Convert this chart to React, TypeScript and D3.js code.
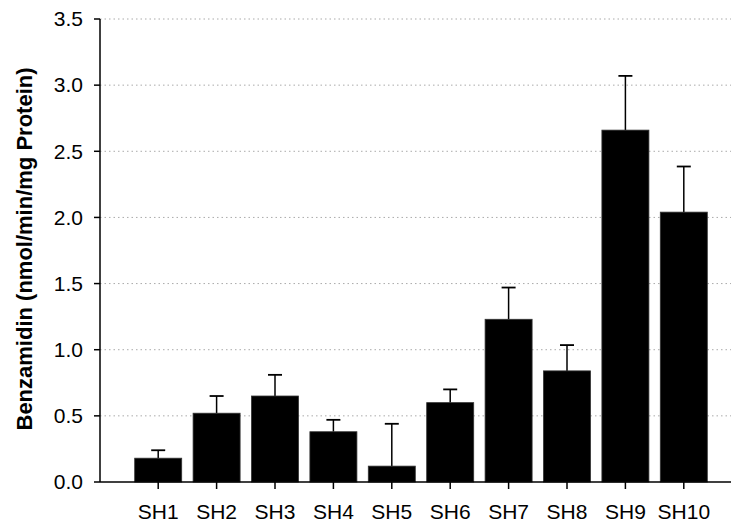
import React from "react";
import * as d3 from "d3";

const categories = ["SH1", "SH2", "SH3", "SH4", "SH5", "SH6", "SH7", "SH8", "SH9", "SH10"];
const means = [0.18, 0.52, 0.65, 0.38, 0.12, 0.6, 1.23, 0.84, 2.66, 2.04];
const errors = [0.06, 0.13, 0.16, 0.09, 0.32, 0.1, 0.24, 0.195, 0.41, 0.345];
const yTicks = [0, 0.5, 1.0, 1.5, 2.0, 2.5, 3.0, 3.5];
const yLabel = "Benzamidin (nmol/min/mg Protein)";

export default function App() {
  const W = 733, H = 525;
  const axisX = 100;
  const right = 731;
  const y = d3.scaleLinear().domain([0, 3.5]).range([482, 19]);
  const x = d3
    .scaleBand<string>()
    .domain(categories)
    .range([129, 129 + 58.4 * categories.length])
    .paddingInner(0.195)
    .paddingOuter(0.0975);
  const bw = x.bandwidth();
  const font = "'Liberation Sans', Arial, Helvetica, sans-serif";
  return (
    <svg width={W} height={H} style={{ position: "absolute", left: 0, top: 0, background: "#fff" }} fontFamily={font}>
      {yTicks.filter((t) => t > 0).map((t) => (
        <line key={"g" + t} x1={axisX} x2={right} y1={y(t)} y2={y(t)} stroke="#aaa" strokeWidth={1} strokeDasharray="1.5,3" />
      ))}
      {categories.map((c, i) => {
        const cx = (x(c) as number) + bw / 2;
        const top = y(means[i]);
        const et = y(means[i] + errors[i]);
        return (
          <g key={c}>
            <line x1={cx} x2={cx} y1={top} y2={et} stroke="#000" strokeWidth={1.5} />
            <line x1={cx - 7} x2={cx + 7} y1={et} y2={et} stroke="#000" strokeWidth={1.8} />
            <rect x={x(c)} y={top} width={bw} height={y(0) - top} fill="#000" stroke="#333" strokeWidth={0.8} />
            <line x1={cx} x2={cx} y1={y(0)} y2={y(0) + 7} stroke="#000" strokeWidth={1.5} />
            <text x={cx} y={519} textAnchor="middle" fontSize={21} fill="#000">{c}</text>
          </g>
        );
      })}
      <line x1={axisX} x2={right} y1={y(0)} y2={y(0)} stroke="#000" strokeWidth={1.5} />
      <line x1={axisX} x2={axisX} y1={y(3.5)} y2={y(0)} stroke="#000" strokeWidth={1.5} />
      {yTicks.map((t) => (
        <g key={"t" + t}>
          <line x1={axisX - 6} x2={axisX} y1={y(t)} y2={y(t)} stroke="#000" strokeWidth={1.5} />
          <text x={83} y={y(t)} dy="0.35em" textAnchor="end" fontSize={21} fill="#000">{t.toFixed(1)}</text>
        </g>
      ))}
      <text transform={`translate(32,${249}) rotate(-90)`} textAnchor="middle" fontSize={22} fontWeight="bold" fill="#000">{yLabel}</text>
    </svg>
  );
}
